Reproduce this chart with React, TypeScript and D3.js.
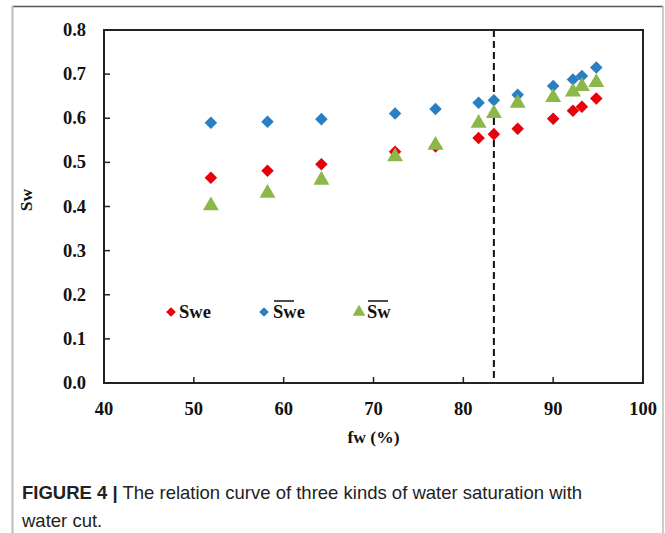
import React from "react";
import * as d3 from "d3";

const fw = [51.9, 58.2, 64.2, 72.4, 76.9, 81.7, 83.4, 86.05, 90.0, 92.2, 93.2, 94.8];
const sweValues = [0.465, 0.481, 0.496, 0.524, 0.536, 0.555, 0.564, 0.576, 0.599, 0.617, 0.626, 0.645];
const sweBarValues = [0.590, 0.592, 0.598, 0.611, 0.621, 0.635, 0.641, 0.653, 0.673, 0.688, 0.696, 0.715];
const swBarValues = [0.402, 0.430, 0.460, 0.513, 0.539, 0.589, 0.611, 0.634, 0.647, 0.660, 0.672, 0.681];
const xTicks = [40, 50, 60, 70, 80, 90, 100];
const yTicks = [0, 0.1, 0.2, 0.3, 0.4, 0.5, 0.6, 0.7, 0.8];
const dashedAt = 83.4;

const RED = "#e8000b";
const BLUE = "#2a7fc4";
const GREEN = "#8cb84a";

const W = 665, H = 533;
const L = 104, R = 643, T = 30, B = 383;
const serif = "'Liberation Serif', 'Times New Roman', serif";
const sans = "'Liberation Sans', Arial, sans-serif";

export default function App() {
  const x = d3.scaleLinear().domain([40, 100]).range([L, R]);
  const y = d3.scaleLinear().domain([0, 0.8]).range([B, T]);
  const diamond = d3.symbol().type(d3.symbolDiamond2).size(100)() as string;
  const tri = d3.symbol().type(d3.symbolTriangle).size(110)() as string;

  const diamondPath = (s: number) => d3.symbol().type(d3.symbolDiamond2).size(s)() as string;

  return (
    <svg width={W} height={H} style={{ position: "absolute", left: 0, top: 0, background: "#fff" }}>
      {/* frame */}
      <line x1={12} y1={6.5} x2={663} y2={6.5} stroke="#555" strokeWidth={1.5} />
      <line x1={12.5} y1={6} x2={12.5} y2={H} stroke="#bbb" strokeWidth={2} />
      <line x1={663} y1={6} x2={663} y2={H} stroke="#bbb" strokeWidth={1.5} />

      {/* ticks */}
      {xTicks.slice(1, -1).map((t) => (
        <line key={"xt" + t} x1={x(t)} x2={x(t)} y1={B} y2={B - 6} stroke="#222" strokeWidth={1.5} />
      ))}
      {yTicks.slice(1, -1).map((t) => (
        <line key={"yt" + t} x1={L} x2={L + 6} y1={y(t)} y2={y(t)} stroke="#222" strokeWidth={1.5} />
      ))}

      {/* dashed line */}
      <line x1={x(dashedAt)} x2={x(dashedAt)} y1={T} y2={B} stroke="#111" strokeWidth={2} strokeDasharray="7,4" />

      {/* plot border */}
      <rect x={L} y={T} width={R - L} height={B - T} fill="none" stroke="#222" strokeWidth={2} />

      {/* tick labels */}
      {xTicks.map((t) => (
        <text key={"xl" + t} x={x(t)} y={415} textAnchor="middle" fontFamily={serif} fontWeight="bold" fontSize={18.5} fill="#111">
          {t}
        </text>
      ))}
      {yTicks.map((t) => (
        <text key={"yl" + t} x={86} y={y(t) + 6} textAnchor="end" fontFamily={serif} fontWeight="bold" fontSize={18.5} fill="#111">
          {t.toFixed(1)}
        </text>
      ))}

      {/* axis titles */}
      <text x={(L + R) / 2} y={443} textAnchor="middle" fontFamily={serif} fontWeight="bold" fontSize={17.5} fill="#111">
        fw (%)
      </text>
      <text transform={`translate(32,200) rotate(-90)`} textAnchor="middle" fontFamily={serif} fontWeight="bold" fontSize={17.5} fill="#111">
        Sw
      </text>

      {/* points */}
      {fw.map((v, i) => (
        <path key={"r" + i} d={diamond} transform={`translate(${x(v)},${y(sweValues[i])})`} fill={RED} />
      ))}
      {fw.map((v, i) => (
        <path key={"b" + i} d={diamond} transform={`translate(${x(v)},${y(sweBarValues[i])})`} fill={BLUE} />
      ))}
      {fw.map((v, i) => (
        <path key={"g" + i} d={tri} transform={`translate(${x(v)},${y(swBarValues[i])})`} fill={GREEN} />
      ))}

      {/* legend */}
      <path d={diamondPath(60)} transform="translate(171,312)" fill={RED} />
      <text x={179} y={318} fontFamily={serif} fontWeight="bold" fontSize={18.5} fill="#111">Swe</text>
      <path d={diamondPath(60)} transform="translate(264,312)" fill={BLUE} />
      <text x={273} y={318} fontFamily={serif} fontWeight="bold" fontSize={18.5} fill="#111">Swe</text>
      <line x1={274} x2={294} y1={301} y2={301} stroke="#111" strokeWidth={1.5} />
      <path d={d3.symbol().type(d3.symbolTriangle).size(70)() as string} transform="translate(359,312)" fill={GREEN} />
      <text x={367} y={318} fontFamily={serif} fontWeight="bold" fontSize={18.5} fill="#111">Sw</text>
      <line x1={368} x2={388} y1={301} y2={301} stroke="#111" strokeWidth={1.5} />

      {/* caption */}
      <text x={22} y={499} fontFamily={sans} fontSize={18.5} fill="#222">
        <tspan fontWeight="bold">FIGURE 4 |</tspan>
        <tspan> The relation curve of three kinds of water saturation with</tspan>
      </text>
      <text x={22} y={527} fontFamily={sans} fontSize={18.5} fill="#222">
        water cut.
      </text>
    </svg>
  );
}
